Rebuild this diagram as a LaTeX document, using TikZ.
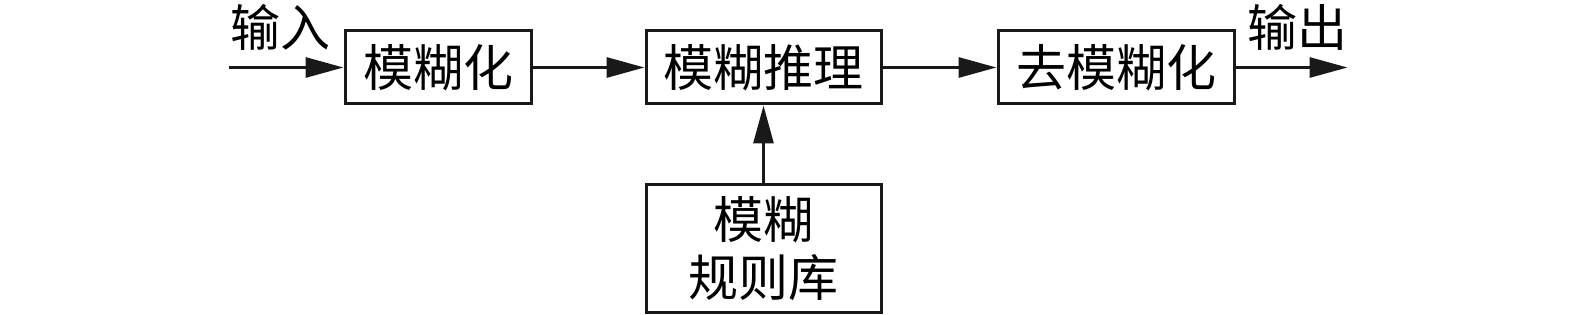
\documentclass[tikz,border=0pt]{standalone}
\usepackage{fontspec}
\newfontfamily\cjk{Noto Sans CJK SC}
\usepackage{tikz}
\usetikzlibrary{arrows.meta,positioning}
\tikzset{
  fz_box/.style={rectangle,draw=black!90,line width=1.5pt,
    minimum width=93pt,minimum height=36.5pt,
    inner sep=0pt,align=center,
    font=\cjk\fontsize{25}{29}\selectfont},
  fz_lbl/.style={font=\cjk\fontsize{25}{29}\selectfont,inner sep=2pt},
  arr/.style={-{Triangle[length=19pt,width=10pt]},line width=1.5pt,draw=black!90},
}
\begin{document}
\begin{tikzpicture}
  \useasboundingbox (0,0) rectangle (787.5pt,-157.5pt);
  \node (fuzz) [fz_box] at (219pt,-33.75pt) {模糊化};
  \node (infer) [fz_box, minimum width=117.5pt, right=56pt of fuzz] {模糊推理};
  \node (defuzz) [fz_box, minimum width=118pt, right=57pt of infer] {去模糊化};
  \node (rules) [fz_box, minimum width=117.5pt, minimum height=64pt,
                 below=39pt of infer] {模糊\\规则库};
  \coordinate[left=57.5pt of fuzz] (in);
  \coordinate[right=56pt of defuzz] (out);

  \draw[arr] (in) -- node[fz_lbl,above=6pt,xshift=-3pt]{输入} (fuzz);
  \draw[arr] (fuzz) -- (infer);
  \draw[arr] (infer) -- (defuzz);
  \draw[arr] (defuzz) -- node[fz_lbl,above=6pt,xshift=3pt]{输出} (out);
  \draw[arr] (rules) -- (infer);
\end{tikzpicture}
\end{document}
